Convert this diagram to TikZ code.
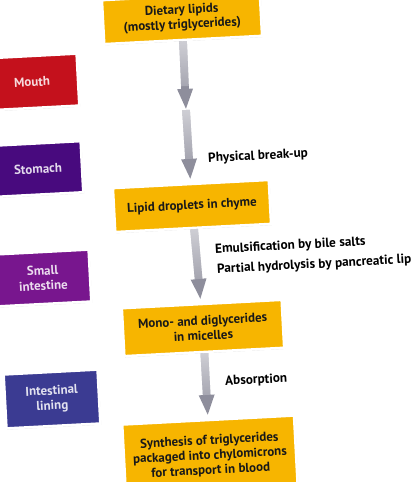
\documentclass[tikz,border=0pt]{standalone}
\usepackage{fontspec}
\setmainfont{PT Sans}
\usetikzlibrary{positioning, calc, shadows, arrows.meta, fadings}
\definecolor{lipidyellow}{HTML}{F7B500}
\definecolor{mouthred}{HTML}{C4111C}
\definecolor{stomachpurple}{HTML}{480A7E}
\definecolor{intestinepurple}{HTML}{78168E}
\definecolor{liningblue}{HTML}{3B3B92}
\definecolor{flowgray}{HTML}{8E8E9C}

\begin{document}
\begin{tikzpicture}[x=0.025cm, y=-0.025cm,
    stage/.style={rectangle, draw=white, line width=1.8pt, fill=lipidyellow, text=black!90, rotate=3, align=center, font=\fontsize{9.2}{10.6}\selectfont\bfseries, drop shadow={opacity=0.35, shadow xshift=0.6pt, shadow yshift=-0.8pt}},
    organ/.style={stage, fill=#1, text=white!85!#1},
    process/.style={anchor=west, rotate=3, inner sep=0pt, font=\fontsize{9.4}{10.6}\selectfont\bfseries},
    flow/.style={draw=flowgray, line width=5.5pt, shorten >=2pt, -{Triangle[width=10pt, length=15pt]},
        postaction={draw=white, opacity=0.6, path fading=south, -, shorten >=17pt}}]
\useasboundingbox (0,0) rectangle (410,482);
\clip (0,0) rectangle (410,482);
\fill[white] (0,0) rectangle (410,482);

% organs on the left
\node[organ=mouthred, minimum width=2.3cm, minimum height=1.3cm] (mouth) at (32,82) {Mouth};
\node[organ=stomachpurple, minimum width=2.2cm, minimum height=1.28cm] (stomach) at (38,169) {Stomach};
\node[organ=intestinepurple, minimum width=2.35cm, minimum height=1.3cm] (smallint) at (43,278) {Small\\intestine};
\node[organ=liningblue, minimum width=2.35cm, minimum height=1.35cm] (lining) at (52,399) {Intestinal\\lining};

% stages of the lipids
\node[stage, minimum width=3.95cm, minimum height=1.1cm] (diet) at (182,18) {Dietary lipids\\(mostly triglycerides)};
\node[stage, minimum width=3.9cm, minimum height=1.1cm] (droplets) at (192,206) {Lipid droplets in chyme};
\node[stage, minimum width=4.0cm, minimum height=1.2cm] (micelles) at (203,328) {Mono- and diglycerides\\in micelles};
\node[stage, minimum width=4.3cm, minimum height=1.8cm] (synth) at (210,456) {Synthesis of triglycerides\\packaged into chylomicrons\\for transport in blood};

\coordinate (mid) at (186,110);

% what happens on the way
\node[process] (breakup) at (208,159) {Physical break-up};
\node[process] (emulsify) at (215,250) {Emulsification by bile salts};
\node[process] (hydrolysis) at (217,270) {Partial hydrolysis by pancreatic lipase};
\node[process] (absorb) at (225,382) {Absorption};

\draw[flow, shorten >=0pt] (diet) -- (mid);
\draw[flow] (mid) -- (droplets);
\draw[flow] (droplets) -- (micelles);
\draw[flow] (micelles) -- (synth);
\end{tikzpicture}
\end{document}
